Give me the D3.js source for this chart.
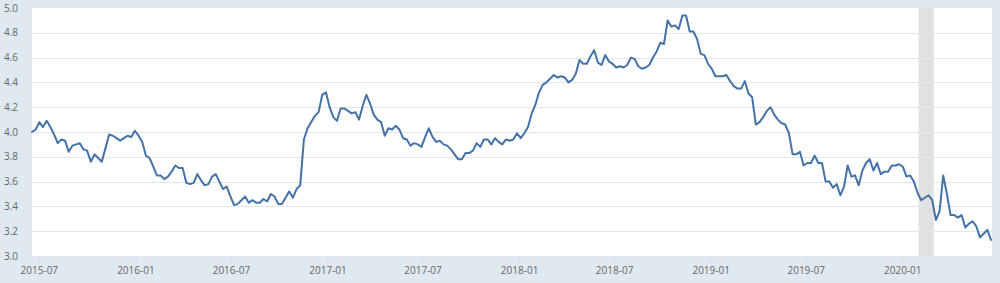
<!DOCTYPE html>
<html>
<head>
<meta charset="utf-8">
<script src="https://cdn.jsdelivr.net/npm/d3@7"></script>
<style>
  html, body { margin: 0; padding: 0; background: #e1e9f0; }
  svg { display: block; }
  text { font-family: "Open Sans", sans-serif; font-size: 10px; fill: #666666; }
</style>
</head>
<body>
<svg id="chart" width="1000" height="283"></svg>
<script>
// ---- data (weekly, starting 2015-06-18) ----
const startDate = "2015-06-18";
const endDate = "2020-06-18";
const values2015 = [4.00, 4.02, 4.08, 4.04, 4.09, 4.04, 3.98, 3.91, 3.94, 3.93, 3.84, 3.89, 3.90, 3.91, 3.86, 3.85, 3.76, 3.82, 3.79, 3.76, 3.87, 3.98, 3.97, 3.95, 3.93, 3.95, 3.97, 3.96, 4.01];
const values2016 = [3.97, 3.92, 3.81, 3.79, 3.72, 3.65, 3.65, 3.62, 3.64, 3.68, 3.73, 3.71, 3.71, 3.59, 3.58, 3.59, 3.66, 3.61, 3.57, 3.58, 3.64, 3.66, 3.60, 3.54, 3.56, 3.48, 3.41, 3.42, 3.45, 3.48, 3.43, 3.45, 3.43, 3.43, 3.46, 3.44, 3.50, 3.48, 3.42, 3.42, 3.47, 3.52, 3.47, 3.54, 3.57, 3.94, 4.03, 4.08, 4.13, 4.16, 4.30, 4.32];
const values2017 = [4.20, 4.12, 4.09, 4.19, 4.19, 4.17, 4.15, 4.16, 4.10, 4.21, 4.30, 4.23, 4.14, 4.10, 4.08, 3.97, 4.03, 4.02, 4.05, 4.02, 3.95, 3.94, 3.89, 3.91, 3.90, 3.88, 3.96, 4.03, 3.96, 3.92, 3.93, 3.90, 3.89, 3.86, 3.82, 3.78, 3.78, 3.83, 3.83, 3.85, 3.91, 3.88, 3.94, 3.94, 3.90, 3.95, 3.92, 3.90, 3.94, 3.93, 3.94, 3.99];
const values2018 = [3.95, 3.99, 4.04, 4.15, 4.22, 4.32, 4.38, 4.40, 4.43, 4.46, 4.44, 4.45, 4.44, 4.40, 4.42, 4.47, 4.58, 4.55, 4.55, 4.61, 4.66, 4.56, 4.54, 4.62, 4.57, 4.55, 4.52, 4.53, 4.52, 4.54, 4.60, 4.59, 4.53, 4.51, 4.52, 4.54, 4.60, 4.65, 4.72, 4.71, 4.90, 4.85, 4.86, 4.83, 4.94, 4.94, 4.81, 4.81, 4.75, 4.63, 4.62, 4.55];
const values2019 = [4.51, 4.45, 4.45, 4.45, 4.46, 4.41, 4.37, 4.35, 4.35, 4.41, 4.31, 4.28, 4.06, 4.08, 4.12, 4.17, 4.20, 4.14, 4.10, 4.07, 4.06, 3.99, 3.82, 3.82, 3.84, 3.73, 3.75, 3.75, 3.81, 3.75, 3.75, 3.60, 3.60, 3.55, 3.58, 3.49, 3.56, 3.73, 3.64, 3.65, 3.57, 3.69, 3.75, 3.78, 3.69, 3.75, 3.66, 3.68, 3.68, 3.73, 3.73, 3.74];
const values2020 = [3.72, 3.64, 3.65, 3.60, 3.51, 3.45, 3.47, 3.49, 3.45, 3.29, 3.36, 3.65, 3.50, 3.33, 3.33, 3.31, 3.33, 3.23, 3.26, 3.28, 3.24, 3.15, 3.18, 3.21, 3.13];
const recession = ["2020-02-01", "2020-03-01"];
const xTickLabels = ["2015-07", "2016-01", "2016-07", "2017-01", "2017-07", "2018-01", "2018-07", "2019-01", "2019-07", "2020-01"];
const yTicks = [3.0, 3.2, 3.4, 3.6, 3.8, 4.0, 4.2, 4.4, 4.6, 4.8, 5.0];

(function () {
// ---- build series ----
const parse = d3.utcParse("%Y-%m-%d");
const parseMonth = d3.utcParse("%Y-%m");
const allValues = [].concat(values2015, values2016, values2017, values2018, values2019, values2020);
const t0 = parse(startDate);
const series = allValues.map((v, i) => ({ date: d3.utcDay.offset(t0, 7 * i), value: v }));

// ---- layout ----
const svg = d3.select("#chart");
const pLeft = 32, pRight = 992, pTop = 8, pBottom = 256;

const x = d3.scaleUtc().domain([parse(startDate), parse(endDate)]).range([pLeft, pRight - 1]);
const y = d3.scaleLinear().domain([3.0, 5.0]).range([pBottom, pTop]);

// plot background
svg.append("rect").attr("x", pLeft).attr("y", pTop)
  .attr("width", pRight - pLeft).attr("height", pBottom - pTop).attr("fill", "#ffffff");

// recession band
svg.append("rect")
  .attr("x", x(parse(recession[0]))).attr("y", pTop)
  .attr("width", x(parse(recession[1])) - x(parse(recession[0])))
  .attr("height", pBottom - pTop).attr("fill", "#e1e1e3");

// gridlines
svg.append("g").selectAll("line").data(yTicks.filter(d => d > 3.0 && d < 5.0)).join("line")
  .attr("x1", pLeft).attr("x2", pRight)
  .attr("y1", d => Math.round(y(d)) + 0.5).attr("y2", d => Math.round(y(d)) + 0.5)
  .attr("stroke", "#e6e6e6").attr("stroke-width", 1);

// y labels
svg.append("g").selectAll("text").data(yTicks).join("text")
  .attr("x", 4).attr("y", d => y(d)).attr("dy", "0.35em")
  .attr("text-anchor", "start")
  .text(d => d3.format(".1f")(d));

// x axis (ticks + labels)
const xTickDates = xTickLabels.map(s => parseMonth(s));
const xAxis = d3.axisBottom(x).tickValues(xTickDates).tickFormat(d3.utcFormat("%Y-%m")).tickSize(6).tickPadding(5);
const gx = svg.append("g").attr("transform", `translate(0,${pBottom})`).call(xAxis);
gx.select(".domain").remove();
gx.selectAll(".tick line").attr("stroke", "#d8dfe8");
gx.selectAll(".tick text").attr("font-family", "Open Sans, sans-serif").attr("font-size", 10).attr("fill", "#666666");

// line
const line = d3.line().x(d => x(d.date)).y(d => y(d.value));
svg.append("path").datum(series)
  .attr("fill", "none").attr("stroke", "#4572a7").attr("stroke-width", 2)
  .attr("stroke-linejoin", "round").attr("stroke-linecap", "round")
  .attr("d", line);
})();
</script>
</body>
</html>
